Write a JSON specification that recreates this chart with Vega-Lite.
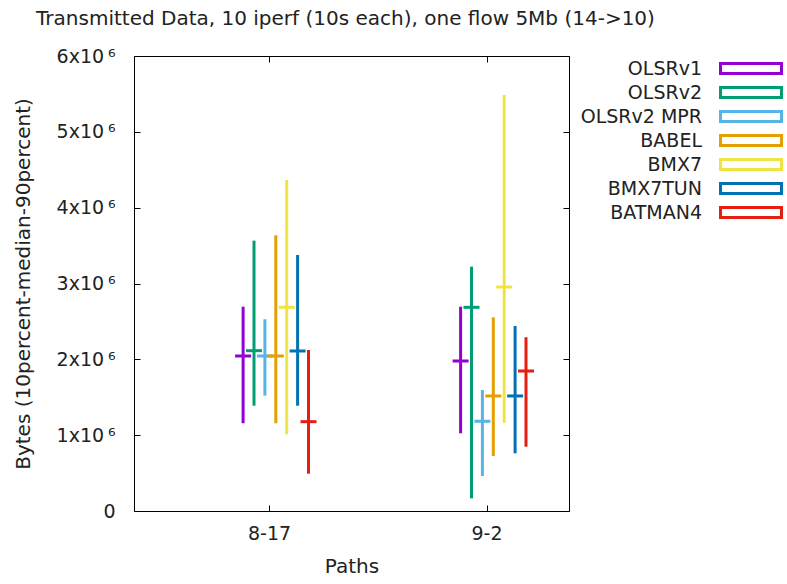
{
  "$schema": "https://vega.github.io/schema/vega-lite/v6.json",
  "width": 435,
  "height": 455,
  "autosize": {"type": "none"},
  "padding": {"left": 134, "top": 56, "right": 218, "bottom": 73},
  "background": "white",
  "config": {
    "view": {"stroke": "#000000", "strokeWidth": 1},
    "font": "DejaVu Sans",
    "axis": {"labelFont": "DejaVu Sans", "titleFont": "DejaVu Sans", "labelFontSize": 19, "titleFontSize": 20, "titleFontWeight": "normal", "labelColor": "#222222", "titleColor": "#222222", "tickColor": "#000000", "grid": false, "domain": false}
  },
  "title": {"text": "Transmitted Data, 10 iperf (10s each), one flow 5Mb (14->10)", "font": "DejaVu Sans", "fontSize": 20, "fontWeight": "normal", "color": "#222222", "anchor": "middle", "frame": "group", "offset": 18, "dx": -6},
  "data": {"values": [
    {"path": "8-17", "proto": "OLSRv1", "p10": 1157000, "med": 2044000, "p90": 2694000},
    {"path": "8-17", "proto": "OLSRv2", "p10": 1389000, "med": 2114000, "p90": 3565000},
    {"path": "8-17", "proto": "OLSRv2 MPR", "p10": 1521000, "med": 2044000, "p90": 2528000},
    {"path": "8-17", "proto": "BABEL", "p10": 1157000, "med": 2044000, "p90": 3636000},
    {"path": "8-17", "proto": "BMX7", "p10": 1011000, "med": 2686000, "p90": 4365000},
    {"path": "8-17", "proto": "BMX7TUN", "p10": 1389000, "med": 2110000, "p90": 3376000},
    {"path": "8-17", "proto": "BATMAN4", "p10": 492000, "med": 1178000, "p90": 2123000},
    {"path": "9-2", "proto": "OLSRv1", "p10": 1025000, "med": 1978000, "p90": 2694000},
    {"path": "9-2", "proto": "OLSRv2", "p10": 167000, "med": 2686000, "p90": 3222000},
    {"path": "9-2", "proto": "OLSRv2 MPR", "p10": 462000, "med": 1183000, "p90": 1596000},
    {"path": "9-2", "proto": "BABEL", "p10": 725000, "med": 1517000, "p90": 2554000},
    {"path": "9-2", "proto": "BMX7", "p10": 1164000, "med": 2954000, "p90": 5486000},
    {"path": "9-2", "proto": "BMX7TUN", "p10": 761000, "med": 1517000, "p90": 2440000},
    {"path": "9-2", "proto": "BATMAN4", "p10": 848000, "med": 1846000, "p90": 2291000}
  ]},
  "layer": [
    {
      "mark": {"type": "rule", "strokeWidth": 3},
      "encoding": {
        "x": {"field": "path", "type": "nominal", "sort": ["8-17", "9-2"],
              "scale": {"paddingInner": 0.246, "paddingOuter": 0.123, "align": 1},
              "axis": {"orient": "bottom", "title": "Paths", "labelAngle": 0, "tickSize": -6, "labelPadding": 19, "titlePadding": 13}},
        "xOffset": {"field": "proto", "type": "nominal", "sort": ["OLSRv1", "OLSRv2", "OLSRv2 MPR", "BABEL", "BMX7", "BMX7TUN", "BATMAN4"],
              "scale": {"type": "point", "padding": 0, "range": [55.6, 121]}},
        "y": {"field": "p10", "type": "quantitative",
              "scale": {"domain": [0, 6000000], "nice": false, "zero": true},
              "axis": {"orient": "left", "title": "Bytes (10percent-median-90percent)", "values": [0, 1000000, 2000000, 3000000, 4000000, 5000000, 6000000], "labelExpr": "datum.value == 0 ? '0' : format(datum.value / 1000000, 'd') + 'x10\u2009⁶'", "tickSize": -6, "labelPadding": 25, "titlePadding": 23}},
        "y2": {"field": "p90"},
        "color": {"field": "proto", "type": "nominal", "sort": ["OLSRv1", "OLSRv2", "OLSRv2 MPR", "BABEL", "BMX7", "BMX7TUN", "BATMAN4"],
              "scale": {"domain": ["OLSRv1", "OLSRv2", "OLSRv2 MPR", "BABEL", "BMX7", "BMX7TUN", "BATMAN4"], "range": ["#9400D3", "#009E73", "#56B4E9", "#E69F00", "#F0E442", "#0072B2", "#E51E10"]},
              "legend": {"orient": "none", "legendX": 607.5, "legendY": 3, "title": null,
                         "symbolType": "M-4.692,-0.769H4.692V0.769H-4.692Z", "symbolSize": 169, "symbolStrokeWidth": 3, "symbolFillColor": "white", "symbolOpacity": 1,
                         "labelAlign": "right", "labelOffset": -58.5, "labelFontSize": 19, "labelFont": "DejaVu Sans", "labelColor": "#222222", "rowPadding": 1, "labelLimit": 300}}
      }
    },
    {
      "mark": {"type": "tick", "filled": false, "thickness": 0.5, "strokeWidth": 2.5, "size": 13.5, "opacity": 1},
      "encoding": {
        "x": {"field": "path", "type": "nominal", "sort": ["8-17", "9-2"],
              "axis": {"orient": "top", "title": null, "labels": false, "tickSize": -6}},
        "xOffset": {"field": "proto", "type": "nominal", "sort": ["OLSRv1", "OLSRv2", "OLSRv2 MPR", "BABEL", "BMX7", "BMX7TUN", "BATMAN4"]},
        "y": {"field": "med", "type": "quantitative",
              "axis": {"orient": "right", "title": null, "labels": false, "values": [0, 1000000, 2000000, 3000000, 4000000, 5000000, 6000000], "tickSize": -6}},
        "color": {"field": "proto", "type": "nominal"}
      }
    }
  ]
}
